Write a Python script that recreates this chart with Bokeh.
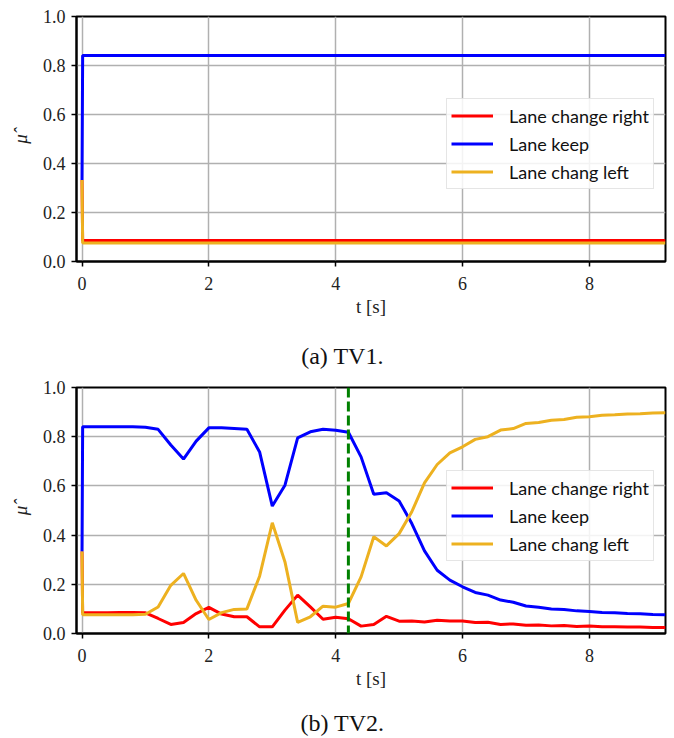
from bokeh.plotting import figure
from bokeh.layouts import column
from bokeh.models import Range1d, Legend, LegendItem, Span, FixedTicker, PrintfTickFormatter, Label
from bokeh.embed import file_html
from bokeh.resources import INLINE

# ---------------- data ----------------
labels = ["Lane change right", "Lane keep", "Lane chang left"]
colors = ["#ff0000", "#0000ff", "#edb120"]

# (a) TV1.
t_tv1 = [0.0, 0.01, 9.2]
right_tv1 = [0.333, 0.086, 0.086]
keep_tv1 = [0.333, 0.841, 0.841]
left_tv1 = [0.333, 0.076, 0.076]

# (b) TV2.
t_tv2 = [0.0, 0.01, 0.2, 0.4, 0.6, 0.8, 1.0, 1.2, 1.4, 1.6, 1.8, 2.0, 2.2, 2.4,
         2.6, 2.8, 3.0, 3.2, 3.4, 3.6, 3.8, 4.0, 4.2, 4.4, 4.6, 4.8, 5.0, 5.2,
         5.4, 5.6, 5.8, 6.0, 6.2, 6.4, 6.6, 6.8, 7.0, 7.2, 7.4, 7.6, 7.8, 8.0,
         8.2, 8.4, 8.6, 8.8, 9.0, 9.2]
right_tv2 = [0.333, 0.084,
             0.084, 0.084, 0.085, 0.085, 0.084, 0.061, 0.037, 0.045, 0.081, 0.106,
             0.079, 0.068, 0.068, 0.027, 0.027, 0.095, 0.156, 0.108, 0.058, 0.066,
             0.060, 0.030, 0.037, 0.070, 0.050, 0.051, 0.047, 0.054, 0.051, 0.051,
             0.045, 0.046, 0.037, 0.039, 0.034, 0.035, 0.031, 0.033, 0.028, 0.030,
             0.027, 0.027, 0.026, 0.026, 0.024, 0.024]
keep_tv2 = [0.333, 0.840,
            0.840, 0.840, 0.840, 0.840, 0.838, 0.830, 0.766, 0.709, 0.782, 0.836,
            0.836, 0.833, 0.830, 0.738, 0.518, 0.603, 0.795, 0.820, 0.830, 0.826,
            0.818, 0.718, 0.566, 0.572, 0.539, 0.447, 0.336, 0.257, 0.217, 0.190,
            0.167, 0.156, 0.136, 0.127, 0.112, 0.107, 0.100, 0.098, 0.092, 0.089,
            0.085, 0.084, 0.081, 0.080, 0.077, 0.076]
left_tv2 = [0.333, 0.076,
            0.076, 0.076, 0.076, 0.076, 0.078, 0.108, 0.196, 0.244, 0.135, 0.057,
            0.085, 0.098, 0.100, 0.233, 0.450, 0.291, 0.045, 0.068, 0.111, 0.107,
            0.122, 0.230, 0.393, 0.356, 0.406, 0.495, 0.612, 0.687, 0.734, 0.759,
            0.789, 0.800, 0.827, 0.833, 0.854, 0.858, 0.867, 0.870, 0.879, 0.881,
            0.887, 0.889, 0.892, 0.893, 0.896, 0.897]
event_time_tv2 = 4.2

x_ticks = [0, 2, 4, 6, 8]
y_ticks = [0.0, 0.2, 0.4, 0.6, 0.8, 1.0]

SERIF = "Liberation Serif"
SANS = "Lato"


def make_panel(t, series, height, border_top, frame_h, event=None):
    p = figure(width=672, height=height, output_backend="svg", toolbar_location=None,
               x_range=Range1d(-0.087, 9.2), y_range=Range1d(0, 1),
               min_border_left=76, min_border_right=7, min_border_top=border_top,
               min_border_bottom=height - border_top - frame_h)
    p.background_fill_color = "white"
    p.border_fill_color = "white"
    p.outline_line_color = "black"
    p.outline_line_width = 2

    for ax in (p.xaxis[0], p.yaxis[0]):
        ax.axis_line_color = "black"
        ax.axis_line_width = 2
        ax.major_tick_line_color = "black"
        ax.major_tick_line_width = 1.5
        ax.major_tick_in = 0
        ax.major_tick_out = 5
        ax.minor_tick_line_color = None
        ax.major_label_text_font = SERIF
        ax.major_label_text_font_size = "18px"
        ax.major_label_text_color = "#222222"
        ax.axis_label_text_font = SERIF
        ax.axis_label_text_font_size = "19px"
        ax.axis_label_text_font_style = "normal"
        ax.axis_label_text_color = "#222222"

    p.xaxis.ticker = FixedTicker(ticks=x_ticks)
    p.yaxis.ticker = FixedTicker(ticks=y_ticks)
    p.yaxis.formatter = PrintfTickFormatter(format="%.1f")
    p.xaxis.major_label_standoff = 10
    p.yaxis.major_label_standoff = 6
    p.xaxis.axis_label = "t [s]"
    p.xaxis.axis_label_standoff = 3
    p.yaxis.axis_label = "\u03bc\u0302"
    p.yaxis.axis_label_text_font_style = "italic"
    p.yaxis.axis_label_standoff = 9

    p.grid.grid_line_color = "#b0b0b0"
    p.grid.grid_line_width = 1.5

    renderers = []
    for vals, c in zip(series, colors):
        r = p.line(t, vals, line_color=c, line_width=3)
        renderers.append(r)

    if event is not None:
        p.add_layout(Span(location=event, dimension="height", line_color="#008000",
                          line_width=3, line_dash="10 4"))

    legend = Legend(items=[LegendItem(label=l, renderers=[r]) for l, r in zip(labels, renderers)],
                    location=(370, 72))
    legend.label_text_font = SANS
    legend.label_text_font_size = "18px"
    legend.label_text_color = "#111111"
    legend.glyph_width = 42
    legend.glyph_height = 25
    legend.label_standoff = 16
    legend.spacing = 3
    legend.padding = 4
    legend.margin = 0
    legend.border_line_color = "#cccccc"
    legend.border_line_width = 1
    legend.background_fill_alpha = 0.85
    p.add_layout(legend, "center")
    return p


def make_caption(text, height, y_from_bottom):
    # the column aligns this frame with the panels' frames (which start 76 px in)
    c = figure(width=672, height=height, output_backend="svg", toolbar_location=None,
               x_range=Range1d(0, 1), y_range=Range1d(0, 1), min_border=0,
               x_axis_location=None, y_axis_location=None)
    c.grid.grid_line_color = None
    c.outline_line_color = None
    c.background_fill_color = "white"
    c.border_fill_color = "white"
    c.add_layout(Label(x=266, y=y_from_bottom, x_units="screen", y_units="screen",
                       text=text, text_align="center", text_baseline="middle",
                       text_font=SERIF, text_font_size="24px", text_color="#111111"))
    return c


p1 = make_panel(t_tv1, [right_tv1, keep_tv1, left_tv1], 325, 16, 245)
c1 = make_caption("(a) TV1.", 45, 15)
p2 = make_panel(t_tv2, [right_tv2, keep_tv2, left_tv2], 327, 17, 246, event_time_tv2)
c2 = make_caption("(b) TV2.", 40, 15)

layout = column(p1, c1, p2, c2, spacing=0)
open("out.html", "w").write(file_html(layout, INLINE))
